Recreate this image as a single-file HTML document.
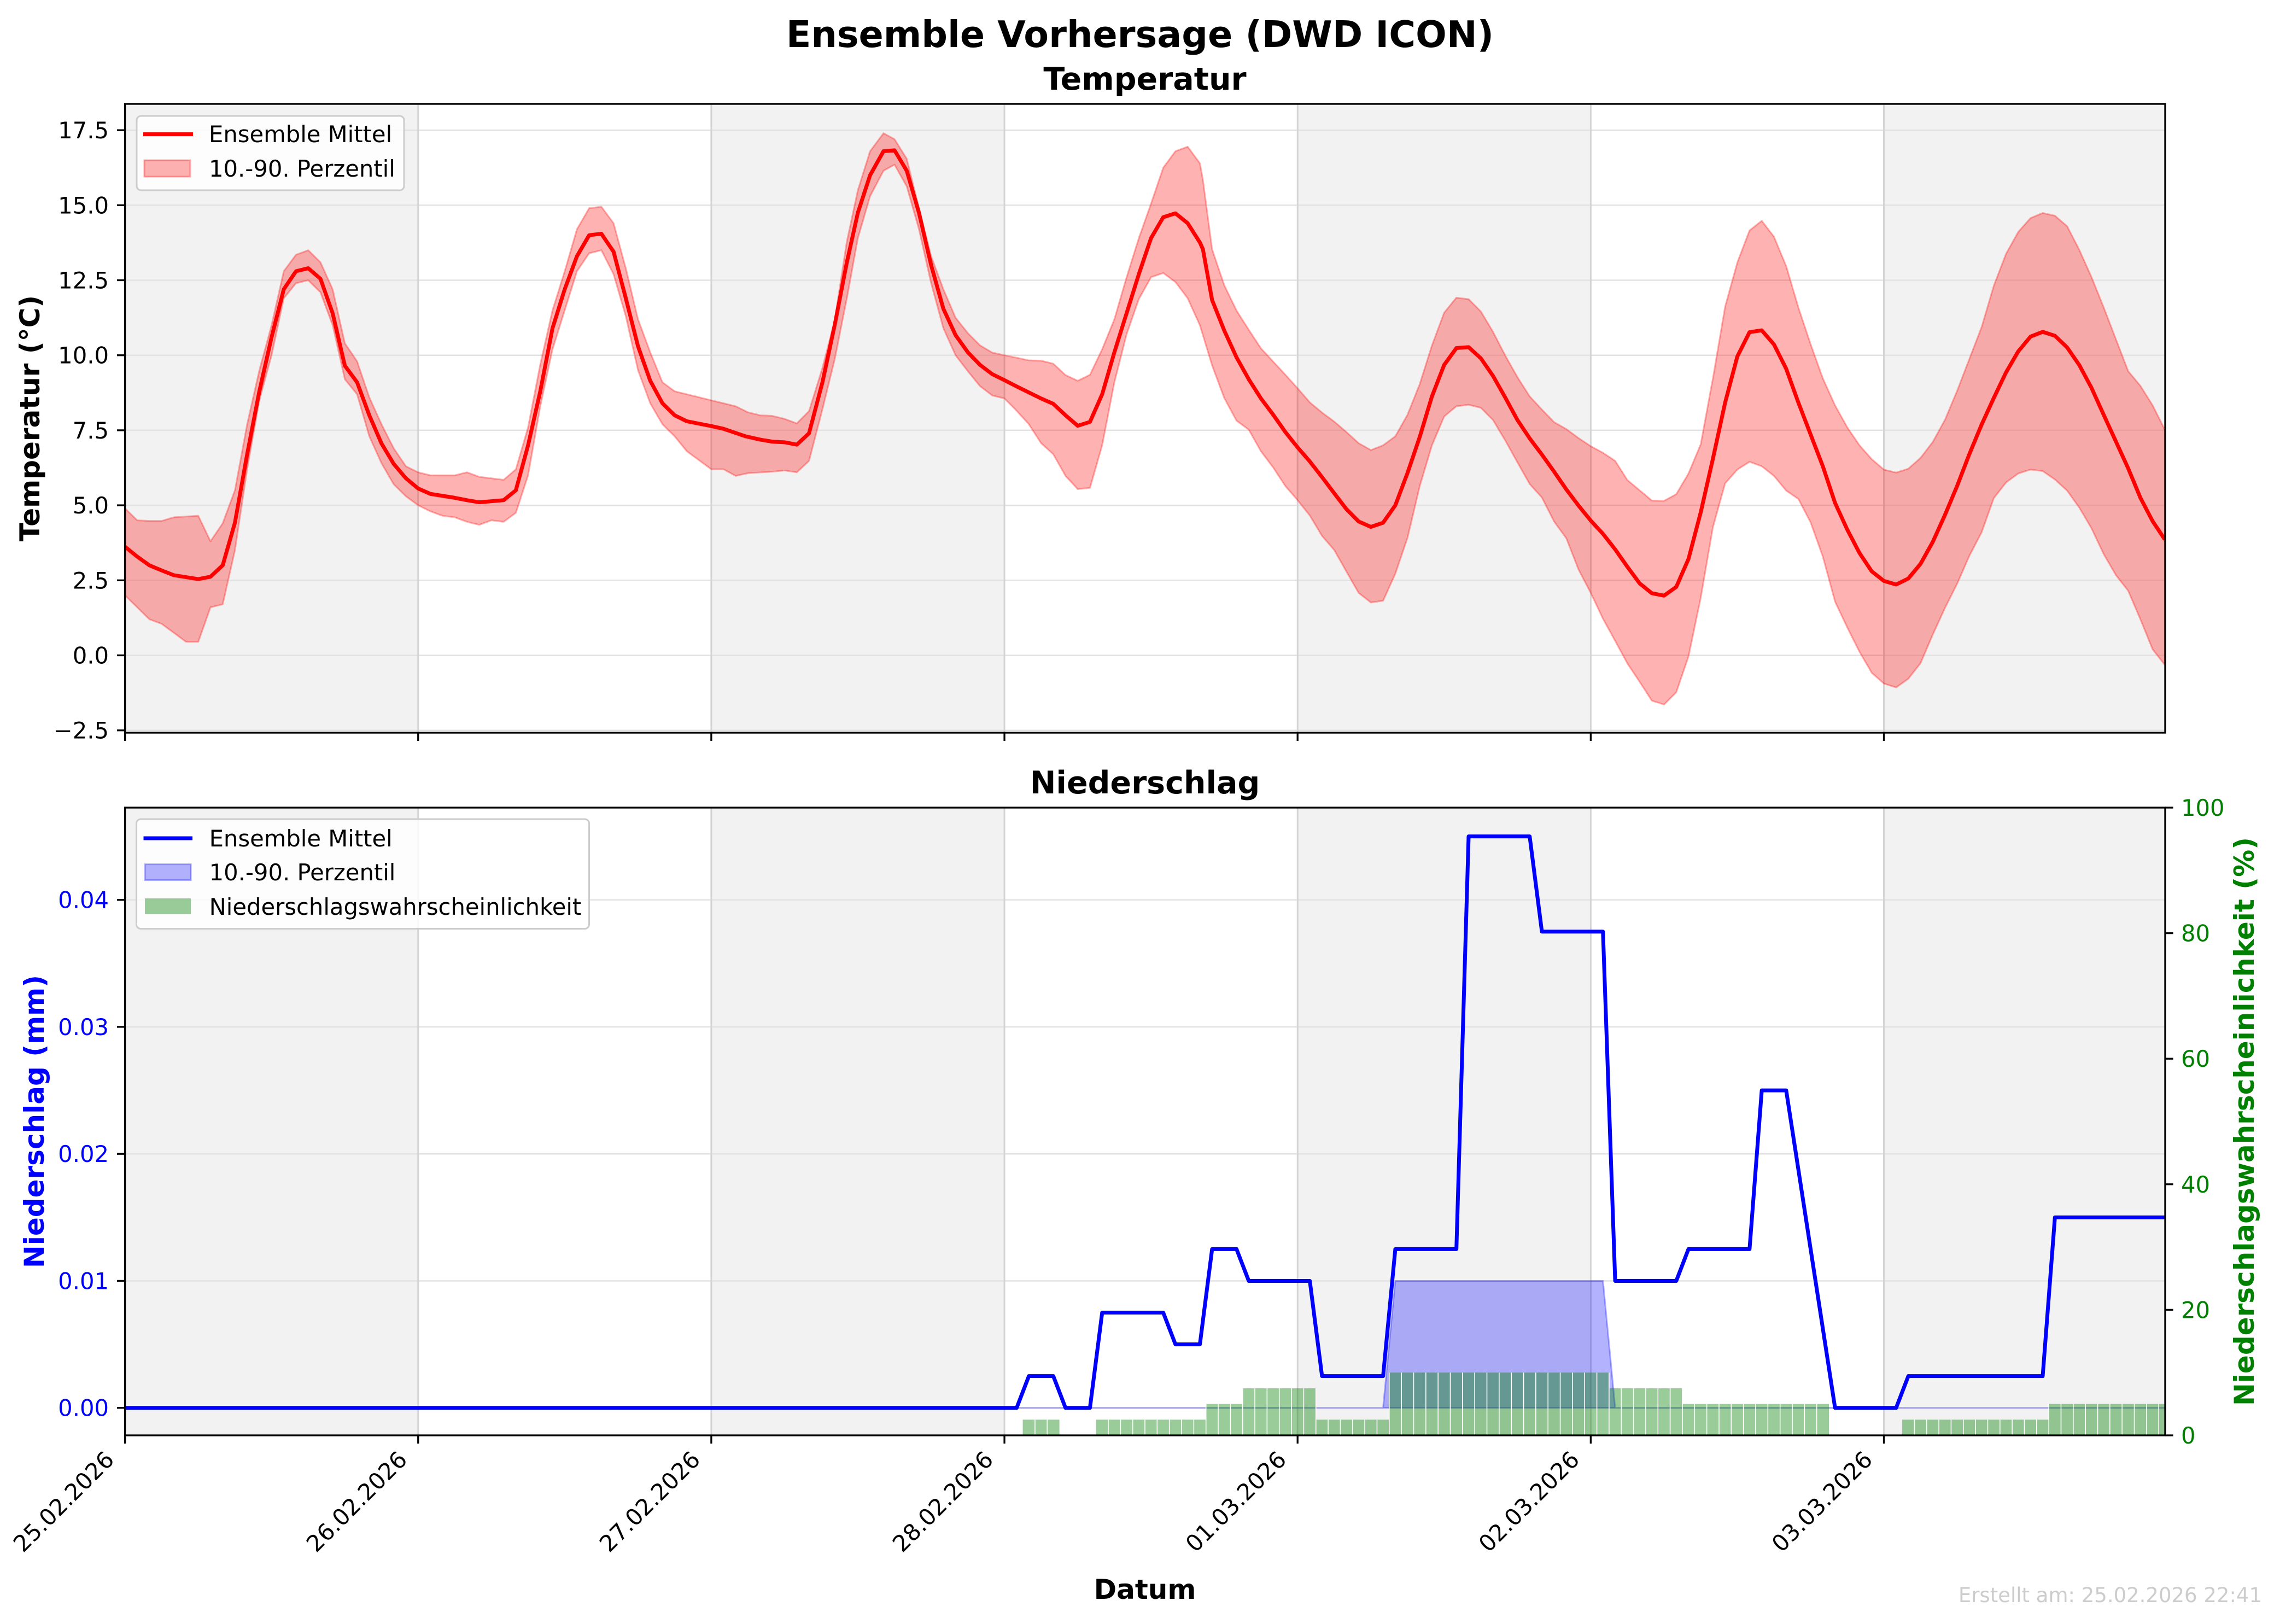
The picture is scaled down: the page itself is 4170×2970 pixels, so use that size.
<!DOCTYPE html>
<html><head><meta charset="utf-8"><style>
html,body{margin:0;padding:0;background:#fff}
svg{display:block}
text{font-family:"DejaVu Sans","Liberation Sans",sans-serif}
</style></head><body>
<svg width="4170" height="2970" viewBox="0 0 4170 2970" xmlns="http://www.w3.org/2000/svg">
<defs>
<clipPath id="c1"><rect x="228.6" y="190" width="3731.4" height="1150"/></clipPath>
<clipPath id="c2"><rect x="228.6" y="1477" width="3731.4" height="1148"/></clipPath>
</defs>
<rect width="4170" height="2970" fill="#fff"/>
<text x="2085" y="86" font-size="66.7" font-weight="bold" text-anchor="middle">Ensemble Vorhersage (DWD ICON)</text>
<text x="2094" y="164" font-size="57" font-weight="bold" text-anchor="middle">Temperatur</text>
<text x="2094" y="1451" font-size="57" font-weight="bold" text-anchor="middle">Niederschlag</text>

<g>
<rect x="228.6" y="190" width="536.15" height="1150" fill="#f2f2f2"/>
<rect x="1300.9" y="190" width="536.15" height="1150" fill="#f2f2f2"/>
<rect x="2373.2" y="190" width="536.15" height="1150" fill="#f2f2f2"/>
<rect x="3445.5" y="190" width="514.5" height="1150" fill="#f2f2f2"/>
<g stroke="#e2e2e2" stroke-width="2.5">
<line x1="228.6" x2="3960" y1="1335.7" y2="1335.7"/><line x1="228.6" x2="3960" y1="1198.5" y2="1198.5"/><line x1="228.6" x2="3960" y1="1061.3" y2="1061.3"/><line x1="228.6" x2="3960" y1="924.1" y2="924.1"/><line x1="228.6" x2="3960" y1="786.9" y2="786.9"/><line x1="228.6" x2="3960" y1="649.7" y2="649.7"/><line x1="228.6" x2="3960" y1="512.5" y2="512.5"/><line x1="228.6" x2="3960" y1="375.3" y2="375.3"/><line x1="228.6" x2="3960" y1="238.1" y2="238.1"/>
</g>
<g stroke="#d4d4d4" stroke-width="3">
<line x1="764.75" x2="764.75" y1="190" y2="1340"/><line x1="1300.9" x2="1300.9" y1="190" y2="1340"/><line x1="1837.05" x2="1837.05" y1="190" y2="1340"/><line x1="2373.2" x2="2373.2" y1="190" y2="1340"/><line x1="2909.35" x2="2909.35" y1="190" y2="1340"/><line x1="3445.5" x2="3445.5" y1="190" y2="1340"/>
</g>
<g clip-path="url(#c1)">
<g transform="matrix(22.34,0,0,-54.88,228.6,1198.5)">
<polygon fill="red" fill-opacity="0.3" stroke="red" stroke-opacity="0.3" stroke-width="3" vector-effect="non-scaling-stroke" stroke-linejoin="round" points="0,4.9 1,4.5 2,4.48 3,4.48 4,4.6 6,4.65 7,3.8 8,4.4 9,5.5 10,7.7 11,9.5 12,11 13,12.8 14,13.35 15,13.5 16,13.1 17,12.2 18,10.4 19,9.8 20,8.6 21,7.7 22,6.9 23,6.3 24,6.1 25,6 27,6 28,6.1 29,5.95 31,5.85 32,6.2 33,7.6 34,9.7 35,11.5 36,12.8 37,14.2 38,14.9 39,14.95 40,14.4 41,12.9 42,11.2 43,10.1 44,9.1 45,8.8 46,8.7 48,8.5 49,8.4 50,8.3 51,8.1 52,8 53,7.98 54,7.88 55,7.73 56,8.14 57.1,9.58 58.1,11.15 59.1,13.8 60,15.5 61,16.8 62.1,17.4 63,17.2 64,16.55 65,14.9 66,13.3 67,12.2 68,11.25 69,10.74 70,10.33 71,10.09 72,10 73,9.92 74,9.83 75,9.82 76,9.72 77,9.34 78,9.15 79,9.35 80,10.2 81,11.2 82,12.6 83,13.9 84,15.05 85,16.25 86,16.8 87,16.95 88,16.4 88.25,15.84 89,13.53 90,12.33 91,11.49 92,10.85 93,10.23 94,9.79 95,9.35 96,8.9 97,8.43 98,8.09 99,7.79 100,7.44 101,7.07 102,6.84 103,7 104,7.3 105,8.02 106,9.04 107,10.33 108,11.42 109,11.92 110,11.87 111,11.46 112,10.78 113,9.99 114,9.27 115,8.63 116,8.19 117,7.77 118,7.54 119,7.24 120,6.97 121,6.75 122,6.48 123,5.84 124,5.5 125,5.16 126,5.15 127,5.37 128,6.06 129,7.03 130,9.23 131,11.62 132,13.09 133,14.16 134,14.48 135,13.95 136,12.97 137,11.59 138,10.37 139,9.23 140,8.33 141,7.6 142,7 143,6.54 144,6.19 145,6.09 146,6.22 147,6.58 148,7.11 149,7.85 150,8.82 151,9.88 152,10.94 153,12.32 154,13.38 155,14.11 156,14.57 157,14.74 158,14.65 159,14.3 160,13.51 161,12.6 162,11.59 163,10.53 164,9.47 165,8.98 166,8.33 167,7.52 167,-0.32 166,0.2 165,1.2 164,2.15 163,2.67 162,3.37 161,4.23 160,4.92 159,5.49 158,5.86 157,6.14 156,6.19 155,6.06 154,5.76 153,5.24 152,4.1 151,3.32 150,2.39 149,1.58 148,0.69 147,-0.26 146,-0.78 145,-1.07 144,-0.94 143,-0.58 142,0.12 141,0.93 140,1.79 139,3.29 138,4.43 137,5.21 136,5.49 135,5.98 134,6.3 133,6.45 132,6.19 131,5.73 130,4.27 129,1.91 128,-0.04 127,-1.23 126,-1.64 125,-1.51 124,-0.88 123,-0.27 122,0.48 121,1.22 120,2.08 119,2.86 118,3.9 117,4.46 116,5.26 115,5.71 114,6.43 113,7.16 112,7.84 111,8.25 110,8.35 109,8.3 108,7.96 107,7 106,5.64 105,3.92 104,2.72 103,1.82 102,1.76 101,2.08 100,2.79 99,3.51 98,3.98 97,4.66 96,5.17 95,5.64 94,6.26 93,6.8 92,7.52 91,7.82 90,8.57 89,9.66 88,11 87,11.9 86,12.44 85,12.74 84,12.6 83,11.87 82,10.7 81,9.1 80,7 79,5.58 78,5.54 77,5.98 76,6.7 75,7.07 74,7.7 73,8.15 72,8.56 71,8.66 70,8.97 69,9.47 68,10 67,10.9 66,12.4 65,14.2 64,15.63 63,16.35 62.1,16.15 61,15.3 60,13.9 59.1,11.9 58.1,9.86 57.1,8.2 56,6.48 55,6.1 54,6.16 53,6.12 51,6.07 50,5.98 49,6.2 48,6.2 47,6.5 46,6.8 45,7.3 44,7.7 43,8.4 42,9.5 41,11.3 40,12.7 39,13.5 38,13.4 37,12.8 36,11.5 35,10.2 34,8.3 33,6 32,4.75 31,4.45 30,4.5 29,4.35 28,4.45 27,4.6 26,4.65 25,4.8 24,5 23,5.3 22,5.7 21,6.4 20,7.3 19,8.7 18,9.2 17,11 16,12.1 15,12.5 14,12.4 13,11.9 12,10 11,8.5 10,6.2 9,3.5 8,1.7 7,1.6 6,0.45 5,0.45 4,0.75 3,1.05 2,1.2 1,1.6 0,2"/>
<polyline fill="none" stroke="red" stroke-width="7" vector-effect="non-scaling-stroke" stroke-linejoin="round" points="0,3.62 1,3.29 2,3 3,2.83 4,2.67 6,2.54 7,2.62 8,3 9,4.42 10,6.7 11,8.8 12,10.6 13,12.2 14,12.8 15,12.9 16,12.55 17,11.4 18,9.65 19,9.1 20,8 21,7.06 22,6.38 23,5.9 24,5.56 25,5.38 27,5.25 28,5.17 29,5.1 31,5.17 32,5.5 33,7 34,8.8 35,10.9 36,12.2 37,13.3 38,14 39,14.05 40,13.45 41,11.9 42,10.3 43,9.15 44,8.4 45,8 46,7.8 48,7.64 49,7.55 50.8,7.3 52,7.19 53,7.12 54,7.1 55,7.02 56,7.4 57.1,9.1 58.1,11 59.1,13.1 60,14.75 61,16 62.1,16.8 63,16.83 64,16.15 65,14.75 66,13 67,11.55 68,10.67 69,10.1 70,9.68 71,9.37 72,9.17 73,8.96 74,8.76 75,8.56 76,8.38 77,8 78,7.65 79,7.78 80,8.7 81,10.1 82,11.4 83,12.7 84,13.9 85,14.6 86,14.73 87,14.4 88,13.76 88.25,13.53 89,11.84 90,10.82 91,9.93 92,9.2 93,8.56 94,8.02 95,7.44 96,6.93 97,6.46 98,5.94 99,5.4 100,4.87 101,4.46 102,4.28 103,4.42 104,5 105,6.08 106,7.28 107,8.63 108,9.68 109,10.24 110,10.27 111,9.9 112,9.31 113,8.59 114,7.84 115,7.23 116,6.69 117,6.12 118,5.53 119,4.99 120,4.49 121,4.05 122,3.53 123,2.95 124,2.4 125,2.07 126,1.99 127,2.28 128,3.21 129,4.76 130,6.55 131,8.42 132,9.96 133,10.77 134,10.83 135,10.36 136,9.55 137,8.42 138,7.36 139,6.3 140,5.08 141,4.19 142,3.41 143,2.8 144,2.48 145,2.36 146,2.56 147,3.05 148,3.78 149,4.68 150,5.65 151,6.71 152,7.69 153,8.58 154,9.43 155,10.13 156,10.62 157,10.78 158,10.65 159,10.26 160,9.67 161,8.91 162,8.01 163,7.12 164,6.23 165,5.25 166,4.47 167,3.86"/>
</g>
</g>
<rect x="228.6" y="190" width="3731.4" height="1150" fill="none" stroke="#000" stroke-width="3.3"/>
<g stroke="#000" stroke-width="3.3">
<line x1="214" x2="228.6" y1="1335.7" y2="1335.7"/><line x1="214" x2="228.6" y1="1198.5" y2="1198.5"/><line x1="214" x2="228.6" y1="1061.3" y2="1061.3"/><line x1="214" x2="228.6" y1="924.1" y2="924.1"/><line x1="214" x2="228.6" y1="786.9" y2="786.9"/><line x1="214" x2="228.6" y1="649.7" y2="649.7"/><line x1="214" x2="228.6" y1="512.5" y2="512.5"/><line x1="214" x2="228.6" y1="375.3" y2="375.3"/><line x1="214" x2="228.6" y1="238.1" y2="238.1"/>
<line x1="228.6" x2="228.6" y1="1340" y2="1355"/><line x1="764.75" x2="764.75" y1="1340" y2="1355"/><line x1="1300.9" x2="1300.9" y1="1340" y2="1355"/><line x1="1837.05" x2="1837.05" y1="1340" y2="1355"/><line x1="2373.2" x2="2373.2" y1="1340" y2="1355"/><line x1="2909.35" x2="2909.35" y1="1340" y2="1355"/><line x1="3445.5" x2="3445.5" y1="1340" y2="1355"/>
</g>
<g font-size="41.7" text-anchor="end">
<text x="199" y="1350.7">−2.5</text><text x="199" y="1213.5">0.0</text><text x="199" y="1076.3">2.5</text><text x="199" y="939.1">5.0</text><text x="199" y="801.9">7.5</text><text x="199" y="664.7">10.0</text><text x="199" y="527.5">12.5</text><text x="199" y="390.3">15.0</text><text x="199" y="253.1">17.5</text>
</g>
<text transform="translate(72,765) rotate(-90)" font-size="50" font-weight="bold" text-anchor="middle">Temperatur (°C)</text>
<rect x="250" y="212" width="489" height="136" rx="8" fill="#fff" fill-opacity="0.8" stroke="#cccccc" stroke-width="3"/>
<line x1="262" x2="353" y1="245.5" y2="245.5" stroke="red" stroke-width="7"/>
<text x="382" y="260" font-size="41.7">Ensemble Mittel</text>
<rect x="264" y="293" width="84" height="30" fill="red" fill-opacity="0.3" stroke="red" stroke-opacity="0.3" stroke-width="3"/>
<text x="382" y="323" font-size="41.7">10.-90. Perzentil</text>
</g>

<g>
<rect x="228.6" y="1477" width="536.15" height="1148" fill="#f2f2f2"/>
<rect x="1300.9" y="1477" width="536.15" height="1148" fill="#f2f2f2"/>
<rect x="2373.2" y="1477" width="536.15" height="1148" fill="#f2f2f2"/>
<rect x="3445.5" y="1477" width="514.5" height="1148" fill="#f2f2f2"/>
<g stroke="#e2e2e2" stroke-width="2.5">
<line x1="228.6" x2="3960" y1="2574.7" y2="2574.7"/><line x1="228.6" x2="3960" y1="2342.45" y2="2342.45"/><line x1="228.6" x2="3960" y1="2110.2" y2="2110.2"/><line x1="228.6" x2="3960" y1="1877.95" y2="1877.95"/><line x1="228.6" x2="3960" y1="1645.7" y2="1645.7"/>
</g>
<g stroke="#d4d4d4" stroke-width="3">
<line x1="764.75" x2="764.75" y1="1477" y2="2625"/><line x1="1300.9" x2="1300.9" y1="1477" y2="2625"/><line x1="1837.05" x2="1837.05" y1="1477" y2="2625"/><line x1="2373.2" x2="2373.2" y1="1477" y2="2625"/><line x1="2909.35" x2="2909.35" y1="1477" y2="2625"/><line x1="3445.5" x2="3445.5" y1="1477" y2="2625"/>
</g>
<g clip-path="url(#c2)">
<g transform="matrix(22.34,0,0,-23225,228.6,2574.7)">
<polygon fill="blue" fill-opacity="0.3" stroke="blue" stroke-opacity="0.3" stroke-width="3" vector-effect="non-scaling-stroke" points="0,0 103,0 104,0.01 121,0.01 122,0 167,0 167,0 0,0"/>
<polyline fill="none" stroke="blue" stroke-width="7" vector-effect="non-scaling-stroke" stroke-linejoin="round" points="0,0 73,0 74,0.0025 76,0.0025 77,0 79,0 80,0.0075 85,0.0075 86,0.005 88,0.005 89,0.0125 91,0.0125 92,0.01 97,0.01 98,0.0025 103,0.0025 104,0.0125 109,0.0125 110,0.045 115,0.045 116,0.0375 121,0.0375 122,0.01 127,0.01 128,0.0125 133,0.0125 134,0.025 136,0.025 140,0 145,0 146,0.0025 157,0.0025 158,0.015 167,0.015"/>
</g>
<g transform="matrix(22.34,0,0,-11.48,228.6,2625)">
<g fill="green" fill-opacity="0.4">
<rect x="73.5" y="0" width="3" height="2.5"/>
<rect x="79.5" y="0" width="9" height="2.5"/>
<rect x="88.5" y="0" width="3" height="5"/>
<rect x="91.5" y="0" width="6" height="7.5"/>
<rect x="97.5" y="0" width="6" height="2.5"/>
<rect x="103.5" y="0" width="18" height="10"/>
<rect x="121.5" y="0" width="6" height="7.5"/>
<rect x="127.5" y="0" width="12" height="5"/>
<rect x="145.5" y="0" width="12" height="2.5"/>
<rect x="157.5" y="0" width="10" height="5"/>
</g>
<path fill="none" stroke="#fff" stroke-width="1.6" vector-effect="non-scaling-stroke" d="M74.5 0V2.5M75.5 0V2.5M80.5 0V2.5M81.5 0V2.5M82.5 0V2.5M83.5 0V2.5M84.5 0V2.5M85.5 0V2.5M86.5 0V2.5M87.5 0V2.5M88.5 0V5M89.5 0V5M90.5 0V5M91.5 0V7.5M92.5 0V7.5M93.5 0V7.5M94.5 0V7.5M95.5 0V7.5M96.5 0V7.5M97.5 0V7.5M98.5 0V2.5M99.5 0V2.5M100.5 0V2.5M101.5 0V2.5M102.5 0V2.5M103.5 0V10M104.5 0V10M105.5 0V10M106.5 0V10M107.5 0V10M108.5 0V10M109.5 0V10M110.5 0V10M111.5 0V10M112.5 0V10M113.5 0V10M114.5 0V10M115.5 0V10M116.5 0V10M117.5 0V10M118.5 0V10M119.5 0V10M120.5 0V10M121.5 0V10M122.5 0V7.5M123.5 0V7.5M124.5 0V7.5M125.5 0V7.5M126.5 0V7.5M127.5 0V7.5M128.5 0V5M129.5 0V5M130.5 0V5M131.5 0V5M132.5 0V5M133.5 0V5M134.5 0V5M135.5 0V5M136.5 0V5M137.5 0V5M138.5 0V5M146.5 0V2.5M147.5 0V2.5M148.5 0V2.5M149.5 0V2.5M150.5 0V2.5M151.5 0V2.5M152.5 0V2.5M153.5 0V2.5M154.5 0V2.5M155.5 0V2.5M156.5 0V2.5M157.5 0V5M158.5 0V5M159.5 0V5M160.5 0V5M161.5 0V5M162.5 0V5M163.5 0V5M164.5 0V5M165.5 0V5M166.5 0V5"/>
</g>
</g>
<rect x="228.6" y="1477" width="3731.4" height="1148" fill="none" stroke="#000" stroke-width="3.3"/>
<g stroke="#000" stroke-width="3.3">
<line x1="214" x2="228.6" y1="2574.7" y2="2574.7"/><line x1="214" x2="228.6" y1="2342.45" y2="2342.45"/><line x1="214" x2="228.6" y1="2110.2" y2="2110.2"/><line x1="214" x2="228.6" y1="1877.95" y2="1877.95"/><line x1="214" x2="228.6" y1="1645.7" y2="1645.7"/>
<line x1="3960" x2="3974.6" y1="2625" y2="2625"/><line x1="3960" x2="3974.6" y1="2395.4" y2="2395.4"/><line x1="3960" x2="3974.6" y1="2165.8" y2="2165.8"/><line x1="3960" x2="3974.6" y1="1936.2" y2="1936.2"/><line x1="3960" x2="3974.6" y1="1706.6" y2="1706.6"/><line x1="3960" x2="3974.6" y1="1477" y2="1477"/>
<line x1="228.6" x2="228.6" y1="2625" y2="2640"/><line x1="764.75" x2="764.75" y1="2625" y2="2640"/><line x1="1300.9" x2="1300.9" y1="2625" y2="2640"/><line x1="1837.05" x2="1837.05" y1="2625" y2="2640"/><line x1="2373.2" x2="2373.2" y1="2625" y2="2640"/><line x1="2909.35" x2="2909.35" y1="2625" y2="2640"/><line x1="3445.5" x2="3445.5" y1="2625" y2="2640"/>
</g>
<g font-size="41.7" text-anchor="end" fill="blue">
<text x="199" y="2589.7">0.00</text><text x="199" y="2357.45">0.01</text><text x="199" y="2125.2">0.02</text><text x="199" y="1892.95">0.03</text><text x="199" y="1660.7">0.04</text>
</g>
<g font-size="41.7" fill="#008000">
<text x="3989" y="2640">0</text><text x="3989" y="2410.4">20</text><text x="3989" y="2180.8">40</text><text x="3989" y="1951.2">60</text><text x="3989" y="1721.6">80</text><text x="3989" y="1492">100</text>
</g>
<text transform="translate(80,2051) rotate(-90)" font-size="50" font-weight="bold" text-anchor="middle" fill="blue">Niederschlag (mm)</text>
<text transform="translate(4122,2051) rotate(-90)" font-size="50" font-weight="bold" text-anchor="middle" fill="#008000">Niederschlagswahrscheinlichkeit (%)</text>
<g font-size="41.7" text-anchor="end">
<text transform="translate(211,2672) rotate(-45)">25.02.2026</text>
<text transform="translate(747,2672) rotate(-45)">26.02.2026</text>
<text transform="translate(1283,2672) rotate(-45)">27.02.2026</text>
<text transform="translate(1819,2672) rotate(-45)">28.02.2026</text>
<text transform="translate(2355,2672) rotate(-45)">01.03.2026</text>
<text transform="translate(2891,2672) rotate(-45)">02.03.2026</text>
<text transform="translate(3427,2672) rotate(-45)">03.03.2026</text>
</g>
<text x="2094" y="2924" font-size="50" font-weight="bold" text-anchor="middle">Datum</text>
<text x="4137" y="2930" font-size="37" text-anchor="end" fill="#cccccc">Erstellt am: 25.02.2026 22:41</text>
<rect x="249.5" y="1498" width="828" height="200.5" rx="8" fill="#fff" fill-opacity="0.8" stroke="#cccccc" stroke-width="3"/>
<line x1="262.5" x2="352" y1="1533" y2="1533" stroke="blue" stroke-width="7"/>
<text x="382.6" y="1548" font-size="41.7">Ensemble Mittel</text>
<rect x="265" y="1580.6" width="84" height="29" fill="blue" fill-opacity="0.3" stroke="blue" stroke-opacity="0.3" stroke-width="3"/>
<text x="382.6" y="1610" font-size="41.7">10.-90. Perzentil</text>
<rect x="265" y="1643" width="84" height="29" fill="green" fill-opacity="0.4"/>
<text x="382.6" y="1673" font-size="41.7">Niederschlagswahrscheinlichkeit</text>
</g>
</svg>
</body></html>
